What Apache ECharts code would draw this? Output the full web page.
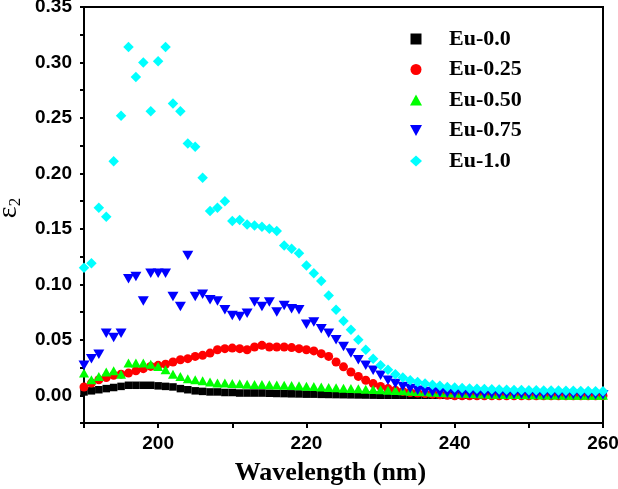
<!DOCTYPE html>
<html><head><meta charset="utf-8">
<script src="https://cdn.jsdelivr.net/npm/echarts@6/dist/echarts.min.js"></script>
<style>html,body{margin:0;padding:0;background:#fff;}#c{width:618px;height:489px;}</style>
</head><body><div id="c"></div>
<script>
const wavelength = [190,191,192,193,194,195,196,197,198,199,200,201,202,203,204,205,206,207,208,209,210,211,212,213,214,215,216,217,218,219,220,221,222,223,224,225,226,227,228,229,230,231,232,233,234,235,236,237,238,239,240,241,242,243,244,245,246,247,248,249,250,251,252,253,254,255,256,257,258,259,260];
const eu00 = [0.003,0.004,0.005,0.006,0.007,0.008,0.009,0.009,0.009,0.009,0.0085,0.008,0.0075,0.006,0.005,0.004,0.0035,0.003,0.003,0.0025,0.0025,0.002,0.002,0.002,0.002,0.0018,0.0016,0.0015,0.0013,0.0012,0.001,0.001,0.0008,0.0007,0.0006,0.0005,0.0004,0.0003,0.0002,0.0001,0,0,0,0,0,0,0,0,0,0,0,0,0,0,0,0,0,0,0,0,0,0,0,0,0,0,0,0,0,0,0];
const eu025 = [0.0075,0.011,0.014,0.016,0.018,0.019,0.020,0.022,0.024,0.026,0.027,0.028,0.030,0.032,0.033,0.035,0.036,0.038,0.041,0.042,0.0425,0.042,0.041,0.0435,0.045,0.0435,0.0435,0.0435,0.043,0.042,0.041,0.040,0.0375,0.035,0.030,0.0256,0.021,0.017,0.0135,0.0105,0.008,0.006,0.0045,0.0035,0.0025,0.002,0.0015,0.001,0.0005,0,-0.0005,-0.0005,-0.0005,-0.0005,-0.0005,-0.0005,-0.0005,-0.0005,-0.0005,-0.0005,-0.0005,-0.0005,-0.0005,-0.0005,-0.0005,-0.0005,-0.0005,-0.0005,-0.0005,-0.0005,-0.0005];
const eu050 = [0.020,0.014,0.017,0.021,0.022,0.019,0.029,0.029,0.029,0.028,0.026,0.023,0.019,0.017,0.015,0.014,0.013,0.012,0.011,0.011,0.0105,0.0103,0.010,0.0098,0.0096,0.0094,0.0092,0.009,0.0088,0.0086,0.0082,0.0078,0.0074,0.007,0.0067,0.0064,0.0061,0.0058,0.0055,0.0052,0.0049,0.0046,0.0043,0.004,0.0037,0.0034,0.0031,0.0028,0.0025,0.0022,0.002,0.0018,0.0016,0.0014,0.0012,0.001,0.0009,0.0008,0.0007,0.0006,0.0005,0.0004,0.0003,0.0002,0.0002,0.0001,0.0001,0,0,0,0];
const eu075 = [0.027,0.033,0.037,0.056,0.052,0.056,0.105,0.107,0.085,0.110,0.110,0.110,0.089,0.080,0.126,0.089,0.091,0.086,0.085,0.077,0.072,0.071,0.074,0.084,0.080,0.084,0.075,0.081,0.078,0.077,0.064,0.066,0.060,0.056,0.050,0.044,0.038,0.032,0.027,0.0225,0.018,0.0135,0.0105,0.008,0.006,0.0045,0.0035,0.003,0.0025,0.002,0.0016,0.0015,0.0014,0.0013,0.0012,0.0011,0.001,0.001,0.0009,0.0009,0.0008,0.0008,0.0007,0.0007,0.0006,0.0006,0.0006,0.0005,0.0005,0.0005,0.0005];
const eu10 = [0.115,0.119,0.169,0.161,0.211,0.252,0.314,0.287,0.300,0.256,0.301,0.314,0.263,0.256,0.227,0.224,0.196,0.166,0.169,0.175,0.157,0.158,0.154,0.153,0.152,0.150,0.148,0.135,0.132,0.128,0.117,0.110,0.103,0.090,0.077,0.067,0.059,0.050,0.041,0.033,0.027,0.023,0.019,0.016,0.0135,0.012,0.0105,0.0095,0.0085,0.0075,0.007,0.0066,0.0062,0.0059,0.0056,0.0054,0.0052,0.005,0.0048,0.0047,0.0046,0.0045,0.0044,0.0043,0.0042,0.0041,0.004,0.0039,0.0038,0.0037,0.0036];
const seriesNames = ['Eu-0.0','Eu-0.25','Eu-0.50','Eu-0.75','Eu-1.0'];
const xTickLabels = [200,220,240,260];
const yTickLabels = ['0.00','0.05','0.10','0.15','0.20','0.25','0.30','0.35'];

const downTri = 'path://M0,0 L10,0 L5,9 Z';
const styles = [
  {color:'#000000', symbol:'rect', size:7.5},
  {color:'#ff0000', symbol:'circle', size:9},
  {color:'#00ff00', symbol:'triangle', size:[10,9]},
  {color:'#0000ff', symbol:downTri, size:[11,9.5]},
  {color:'#00ffff', symbol:'diamond', size:10.5}
];
const allData = [eu00, eu025, eu050, eu075, eu10];
const chart = echarts.init(document.getElementById('c'), null, {renderer:'canvas'});
const series = allData.map((vals, k) => ({
  name: seriesNames[k],
  type: 'scatter',
  data: wavelength.map((w, i) => [w, vals[i]]),
  symbol: styles[k].symbol,
  symbolSize: styles[k].size,
  itemStyle: {color: styles[k].color, opacity: 1},
  animation: false
}));
chart.setOption({
  backgroundColor: '#fff',
  animation: false,
  grid: {left: 84, right: 15, top: 7, bottom: 66, show: true, borderColor: '#000', borderWidth: 2, outerBoundsMode: 'none', containLabel: false},
  legend: {
    orient: 'vertical', left: 405, top: 23, itemGap: 8.5, itemWidth: 12, itemHeight: 11,
    data: seriesNames.map((n, k) => ({name: n, icon: styles[k].symbol === 'rect' ? 'path://M0,0 L10,0 L10,10 L0,10 Z' : styles[k].symbol})),
    textStyle: {fontFamily: '"Liberation Serif", "Times New Roman", serif', fontWeight: 'bold', fontSize: 22, color: '#000', lineHeight: 21, padding: [0,0,0,22]}
  },
  xAxis: {
    type: 'value', min: 190, max: 260, interval: 10,
    name: 'Wavelength (nm)', nameLocation: 'middle', nameGap: 37,
    nameTextStyle: {fontFamily: '"Liberation Serif", "Times New Roman", serif', fontWeight: 'bold', fontSize: 26, color: '#000', padding: [0, 26, 0, 0]},
    axisLine: {onZero: false, lineStyle: {color: '#000', width: 2}},
    axisTick: {show: true, length: 5, inside: false, lineStyle: {color: '#000', width: 2}},
    splitLine: {show: false},
    axisLabel: {margin: 11, color: '#000', fontFamily: '"Liberation Sans", Arial, sans-serif', fontWeight: 'bold', fontSize: 19,
      formatter: v => xTickLabels.indexOf(Math.round(v)) >= 0 ? String(Math.round(v)) : ''}
  },
  yAxis: {
    type: 'value', min: -0.025, max: 0.35, interval: 0.025,
    name: '{e|ε}{s|2}', nameLocation: 'middle', nameGap: 56, nameRotate: 90,
    nameTextStyle: {padding: [0, 0, 0, 14], rich: {
      e: {fontFamily: '"Liberation Serif", "Times New Roman", serif', fontSize: 28, color: '#000', lineHeight: 30, verticalAlign: 'middle'},
      s: {fontFamily: '"Liberation Serif", "Times New Roman", serif', fontSize: 17, color: '#000', lineHeight: 30, verticalAlign: 'bottom', padding: [10,0,0,0]}
    }},
    axisLine: {onZero: false, lineStyle: {color: '#000', width: 2}},
    axisTick: {show: true, length: 4, inside: false, lineStyle: {color: '#000', width: 2}},
    splitLine: {show: false},
    axisLabel: {margin: 12, color: '#000', fontFamily: '"Liberation Sans", Arial, sans-serif', fontWeight: 'bold', fontSize: 19,
      formatter: v => { const s = (Math.round(v * 1000) / 1000).toFixed(2); return (v > -0.001 && Math.round(v * 1000) % 50 === 0 && yTickLabels.indexOf(s) >= 0) ? s : ''; }}
  },
  series: series
});
</script></body></html>
